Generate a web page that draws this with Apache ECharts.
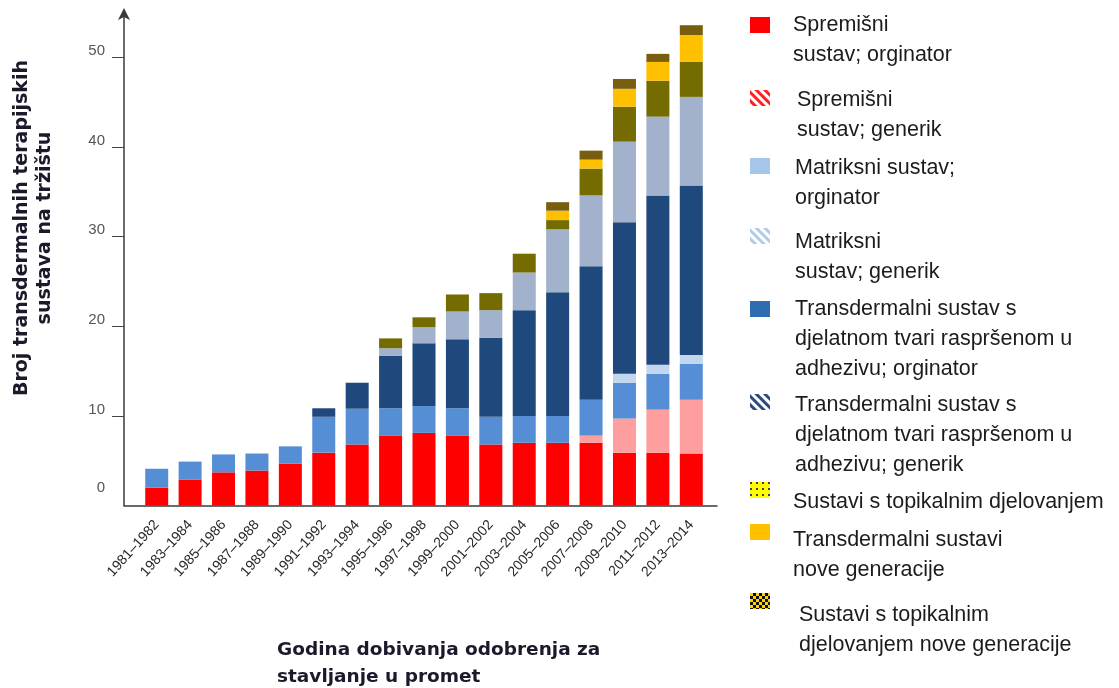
<!DOCTYPE html>
<html>
<head>
<meta charset="utf-8">
<script src="https://cdn.jsdelivr.net/npm/echarts@6/dist/echarts.min.js"></script>
<style>
  html, body { margin: 0; padding: 0; background: #fff; }
  #chart { width: 1119px; height: 688px; }
</style>
</head>
<body>
<div id="chart"></div>
<script>
// kategorije (razdoblja odobrenja)
const categories = ['1981–1982', '1983–1984', '1985–1986', '1987–1988', '1989–1990', '1991–1992',
  '1993–1994', '1995–1996', '1997–1998', '1999–2000', '2001–2002', '2003–2004', '2005–2006',
  '2007–2008', '2009–2010', '2011–2012', '2013–2014']
const yTickValues = [10, 20, 30, 40, 50]
const yLabelValues = [0, 10, 20, 30, 40, 50]

// vrijednosti po seriji
const spremisniOrg = [2.0, 2.9, 3.7, 3.9, 4.7, 5.9, 6.8, 7.8, 8.1, 7.8, 6.8, 7.0, 7.0, 7.0, 5.9, 5.9, 5.8]
const spremisniGen = [0, 0, 0, 0, 0, 0, 0, 0, 0, 0, 0, 0, 0, 0.8, 3.8, 4.8, 6.0]
const matriksniOrg = [2.1, 2.0, 2.0, 1.9, 1.9, 4.0, 4.0, 3.05, 3.0, 3.05, 3.1, 3.0, 3.0, 4.0, 4.0, 4.0, 4.0]
const matriksniGen = [0, 0, 0, 0, 0, 0, 0, 0, 0, 0, 0, 0, 0, 0, 1.0, 1.0, 1.0]
const adhezivOrg = [0, 0, 0, 0, 0, 0.95, 2.9, 5.85, 7.0, 7.7, 8.8, 11.8, 13.8, 14.9, 16.9, 18.9, 18.9]
const adhezivGen = [0, 0, 0, 0, 0, 0, 0, 0.85, 1.8, 3.1, 3.1, 4.2, 7.05, 7.9, 9.0, 8.8, 9.9]
const topikalni = [0, 0, 0, 0, 0, 0, 0, 1.1, 1.1, 1.9, 1.9, 2.1, 1.0, 3.0, 3.9, 4.0, 3.9]
const noviTransdermalni = [0, 0, 0, 0, 0, 0, 0, 0, 0, 0, 0, 0, 1.05, 1.0, 2.0, 2.1, 3.0]
const noviTopikalni = [0, 0, 0, 0, 0, 0, 0, 0, 0, 0, 0, 0, 0.95, 1.0, 1.1, 0.9, 1.1]

const stripes = (color) => ({
  symbol: 'rect', symbolSize: 1, dashArrayX: [1, 0], dashArrayY: [3, 3],
  rotation: Math.PI / 4, color: color
})

// naziv, podaci, boja stupca, ikona legende
const seriesList = [
  { name: 'Spremišni\nsustav; orginator', data: spremisniOrg, color: '#ff0000',
    icon: { color: '#ff0000' } },
  { name: 'Spremišni\nsustav; generik', data: spremisniGen, color: '#ff9e9e',
    icon: { color: '#ffffff', decal: stripes('#ff2020') } },
  { name: 'Matriksni sustav;\norginator', data: matriksniOrg, color: '#558ed5',
    icon: { color: '#a6c7ea' } },
  { name: 'Matriksni\nsustav; generik', data: matriksniGen, color: '#c2d6ef',
    icon: { color: '#ffffff', decal: stripes('#b3cbe8') } },
  { name: 'Transdermalni sustav s\ndjelatnom tvari raspršenom u\nadhezivu; orginator', data: adhezivOrg, color: '#1f487c',
    icon: { color: '#2e6db0' } },
  { name: 'Transdermalni sustav s\ndjelatnom tvari raspršenom u\nadhezivu; generik', data: adhezivGen, color: '#a2b1cc',
    icon: { color: '#ffffff', decal: stripes('#2c4a80') } },
  { name: 'Sustavi s topikalnim djelovanjem', data: topikalni, color: '#746c00',
    icon: { color: '#ffff00', decal: { symbol: 'rect', symbolSize: 1, dashArrayX: [2, 4], dashArrayY: [2, 4], color: '#444' } } },
  { name: 'Transdermalni sustavi\nnove generacije', data: noviTransdermalni, color: '#ffc000',
    icon: { color: '#ffc000' } },
  { name: 'Sustavi s topikalnim\ndjelovanjem nove generacije', data: noviTopikalni, color: '#7a5e10',
    icon: { color: '#ffd400', decal: { symbol: 'rect', symbolSize: 1, dashArrayX: [[3, 3], [0, 3, 3, 0]], dashArrayY: [3, 0], color: '#111' } } }
]

// položaj legende: sredina ikone, pomak prvog retka, lijevi rub teksta
const legendPos = [
  [25, 0, 793], [98, 2, 797], [166, 2, 795], [236, 6, 795], [309, 0, 795],
  [402, 3, 795], [490, 12, 793], [532, 8, 793], [601, 14, 799]
]
const LINE_H = 30

function getLegends () {
  return seriesList.map((s, i) => {
    const [cy, off, textLeft] = legendPos[i]
    const n = s.name.split('\n').length
    // prazni reci iznad teksta da prvi red dođe u visinu ikone
    const h = (2 * n - 1) * LINE_H + 2 * off
    return {
      left: 750,
      top: cy - h / 2,
      padding: 0,
      orient: 'vertical',
      selectedMode: false,
      itemWidth: 20,
      itemHeight: 16,
      icon: 'rect',
      data: [{ name: s.name, itemStyle: s.icon }],
      formatter: name => (off ? '{s| }\n' : '') + '{b| }\n'.repeat(n - 1) + name,
      textStyle: {
        fontFamily: 'Liberation Sans',
        fontSize: 21.5,
        color: '#1c1c1c',
        lineHeight: LINE_H,
        padding: [0, 0, 0, textLeft - 775],
        rich: {
          b: { fontSize: 10, lineHeight: LINE_H },
          s: { fontSize: 1, lineHeight: 2 * off }
        }
      }
    }
  })
}

function getSeries () {
  return seriesList.map(s => ({
    name: s.name,
    type: 'bar',
    stack: 'ukupno',
    barWidth: 23,
    xAxisIndex: 0,
    yAxisIndex: 0,
    data: s.data,
    itemStyle: { color: s.color }
  }))
}

const chartInstance = echarts.init(document.getElementById('chart'), null, { renderer: 'canvas' })
const option = {
  animation: false,
  backgroundColor: '#ffffff',
  grid: [
    // stupci
    { left: 140, right: 411, top: 14, bottom: 182.5 },
    // osi (malo šire od stupaca)
    { left: 124, right: 402, top: 14, bottom: 182.5 }
  ],
  xAxis: [
    {
      type: 'category',
      gridIndex: 0,
      data: categories,
      axisLine: { show: false },
      axisTick: { alignWithLabel: true, length: 14, lineStyle: { color: '#666' } },
      axisLabel: {
        interval: 0,
        rotate: 48,
        margin: 17,
        fontFamily: 'Liberation Sans',
        fontSize: 14,
        color: '#2a2a2a'
      }
    },
    {
      type: 'value',
      gridIndex: 1,
      min: 0,
      max: 1,
      splitLine: { show: false },
      axisTick: { show: false },
      axisLabel: { show: false },
      axisLine: { lineStyle: { color: '#3a3a3a', width: 1.5 } }
    }
  ],
  yAxis: [
    {
      type: 'value',
      gridIndex: 0,
      min: 0,
      max: 54.85,
      show: false
    },
    {
      type: 'value',
      gridIndex: 1,
      min: 0,
      max: 54.85,
      splitLine: { show: false },
      axisLine: {
        show: true,
        symbol: ['none', 'arrow'],
        symbolSize: [9, 12],
        symbolOffset: [0, 6],
        lineStyle: { color: '#3a3a3a', width: 1.5 }
      },
      axisTick: { show: true, customValues: yTickValues, length: 12, lineStyle: { color: '#444' } },
      axisLabel: {
        customValues: yLabelValues,
        margin: 19,
        formatter: v => v === 0 ? '{z|0}' : '{n|' + v + '}',
        fontFamily: 'Liberation Sans',
        fontSize: 15,
        color: '#555',
        rich: {
          n: { fontFamily: 'Liberation Sans', fontSize: 15, color: '#555', padding: [0, 0, 13, 0] },
          z: { fontFamily: 'Liberation Sans', fontSize: 15, color: '#555', padding: [0, 0, 36, 0] }
        }
      }
    }
  ],
  legend: getLegends(),
  graphic: [
    {
      type: 'text',
      x: 34,
      y: 228,
      rotation: Math.PI / 2,
      style: {
        text: 'Broj transdermalnih terapijskih\nsustava na tržištu',
        align: 'center',
        verticalAlign: 'middle',
        font: 'bold 19px "DejaVu Sans"',
        lineHeight: 23,
        fill: '#1a1a2a'
      }
    },
    {
      type: 'text',
      left: 277,
      top: 637,
      style: {
        text: 'Godina dobivanja odobrenja za\nstavljanje u promet',
        font: 'bold 18.5px "DejaVu Sans"',
        lineHeight: 27,
        fill: '#1a1a2a'
      }
    }
  ],
  series: getSeries()
}
chartInstance.setOption(option)
</script>
</body>
</html>
